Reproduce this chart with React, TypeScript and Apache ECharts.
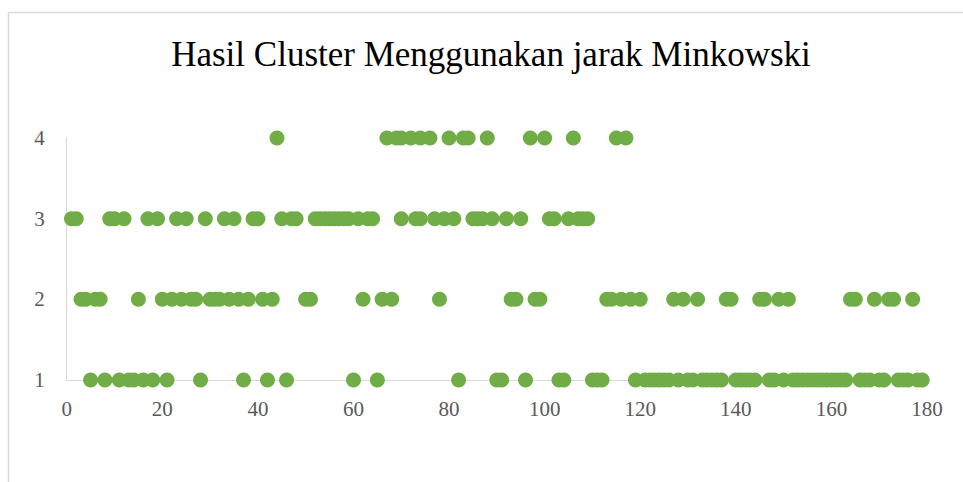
import React, { useEffect, useRef } from "react";
import * as echarts from "echarts";

const chartTitle = "Hasil Cluster Menggunakan jarak Minkowski";
const xTicks = [0, 20, 40, 60, 80, 100, 120, 140, 160, 180];
const yTicks = [1, 2, 3, 4];

const cluster1X = [
  5, 8, 11, 13, 14, 16, 18, 21, 28, 37, 42, 46, 60, 65, 82, 90, 91, 96, 103, 104,
  110, 111, 112, 119, 121, 122, 123, 124, 125, 126, 128, 130, 131, 133, 134, 135,
  136, 137, 140, 141, 142, 143, 144, 147, 148, 150, 152, 153, 154, 155, 156, 157,
  158, 159, 160, 161, 162, 163, 166, 167, 168, 170, 171, 174, 175, 176, 178, 179,
];
const cluster2X = [
  3, 4, 6, 7, 15, 20, 22, 24, 26, 27, 30, 31, 32, 34, 36, 38, 41, 43, 50, 51, 62,
  66, 68, 78, 93, 94, 98, 99, 113, 114, 116, 118, 120, 127, 129, 132, 138, 139,
  145, 146, 149, 151, 164, 165, 169, 172, 173, 177,
];
const cluster3X = [
  1, 2, 9, 10, 12, 17, 19, 23, 25, 29, 33, 35, 39, 40, 45, 47, 48, 52, 53, 54, 55,
  56, 57, 58, 59, 61, 63, 64, 70, 73, 74, 77, 79, 81, 85, 86, 87, 89, 92, 95, 101,
  102, 105, 107, 108, 109,
];
const cluster4X = [44, 67, 69, 70, 72, 74, 76, 80, 83, 84, 88, 97, 100, 106, 115, 117];

const clusters = [
  { y: 1, xs: cluster1X },
  { y: 2, xs: cluster2X },
  { y: 3, xs: cluster3X },
  { y: 4, xs: cluster4X },
];

const GREEN = "#70AD47";
const FONT = "Liberation Serif";

export default function App() {
  const ref = useRef<HTMLDivElement>(null);
  useEffect(() => {
    if (!ref.current) return;
    const chart = echarts.init(ref.current, undefined, { renderer: "svg" });
    chart.setOption({
      animation: false,
      backgroundColor: "#ffffff",
      title: {
        text: chartTitle,
        left: 486,
        top: 32,
        textAlign: "center",
        textStyle: {
          fontFamily: FONT,
          fontSize: 35,
          fontWeight: "normal",
          color: "#000000",
        },
      },
      graphic: [
        {
          type: "rect",
          shape: { x: 8.5, y: 12.5, width: 1200, height: 1000 },
          style: { fill: "none", stroke: "#d9d9d9", lineWidth: 1.5 },
          silent: true,
        },
      ],
      grid: { left: 66.7, right: 36, top: 138, bottom: 102, containLabel: false },
      xAxis: {
        type: "value",
        min: xTicks[0],
        max: xTicks[xTicks.length - 1],
        interval: 20,
        splitLine: { show: false },
        axisTick: { show: false },
        axisLine: { show: true, lineStyle: { color: "#d9d9d9", width: 1 } },
        axisLabel: {
          fontFamily: FONT,
          fontSize: 21,
          color: "#595959",
          margin: 18,
        },
      },
      yAxis: {
        type: "value",
        min: yTicks[0],
        max: yTicks[yTicks.length - 1],
        interval: 1,
        splitLine: { show: false },
        axisTick: { show: false },
        axisLine: { show: true, onZero: false, lineStyle: { color: "#d9d9d9", width: 1 } },
        axisLabel: {
          fontFamily: FONT,
          fontSize: 21,
          color: "#595959",
          margin: 22,
        },
      },
      series: clusters.map((c) => ({
        type: "scatter",
        name: "Cluster " + c.y,
        symbol: "circle",
        symbolSize: 15,
        itemStyle: { color: GREEN, opacity: 1 },
        data: c.xs.map((x) => [x, c.y]),
      })),
    });
    return () => chart.dispose();
  }, []);
  return (
    <div
      ref={ref}
      style={{ position: "fixed", left: 0, top: 0, width: 963, height: 482, background: "#fff" }}
    />
  );
}
